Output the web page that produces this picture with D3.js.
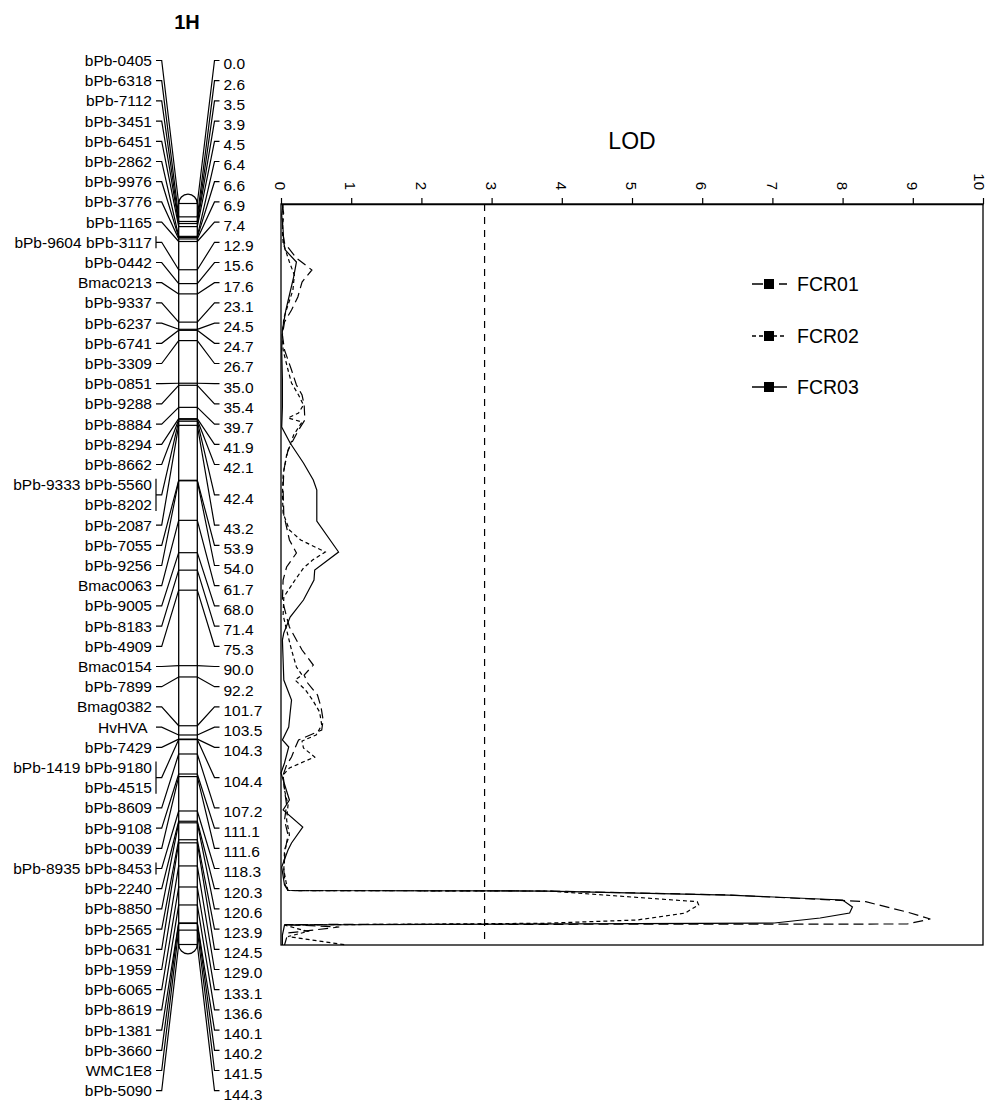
<!DOCTYPE html>
<html><head><meta charset="utf-8">
<script src="https://cdn.jsdelivr.net/npm/d3@7"></script>
<style>body{margin:0;background:#fff} svg{display:block} text{font-family:"Liberation Sans",Arial,Helvetica,sans-serif;fill:#000}</style>
</head><body><svg id="c" width="987" height="1102"></svg>
<script>
// ---- data ----
const chromosome = "1H";
const lociCM = [0.0,2.6,3.5,3.9,4.5,6.4,6.6,6.9,7.4,12.9,15.6,17.6,23.1,24.5,24.7,26.7,35.0,35.4,39.7,41.9,42.1,42.4,43.2,53.9,54.0,61.7,68.0,71.4,75.3,90.0,92.2,101.7,103.5,104.3,104.4,107.2,111.1,111.6,118.3,120.3,120.6,123.9,124.5,129.0,133.1,136.6,140.1,140.2,141.5,144.3];
const lociNames = [["bPb-0405"],["bPb-6318"],["bPb-7112"],["bPb-3451"],["bPb-6451"],["bPb-2862"],["bPb-9976"],["bPb-3776"],["bPb-1165"],["bPb-9604 bPb-3117"],["bPb-0442"],["Bmac0213"],["bPb-9337"],["bPb-6237"],["bPb-6741"],["bPb-3309"],["bPb-0851"],["bPb-9288"],["bPb-8884"],["bPb-8294"],["bPb-8662"],["bPb-9333 bPb-5560","bPb-8202"],["bPb-2087"],["bPb-7055"],["bPb-9256"],["Bmac0063"],["bPb-9005"],["bPb-8183"],["bPb-4909"],["Bmac0154"],["bPb-7899"],["Bmag0382"],["HvHVA\u00a0"],["bPb-7429"],["bPb-1419 bPb-9180","bPb-4515"],["bPb-8609"],["bPb-9108"],["bPb-0039"],["bPb-8935 bPb-8453"],["bPb-2240"],["bPb-8850"],["bPb-2565"],["bPb-0631"],["bPb-1959"],["bPb-6065"],["bPb-8619"],["bPb-1381"],["bPb-3660"],["WMC1E8"],["bPb-5090"]];
const lodTicks = [0,1,2,3,4,5,6,7,8,9,10];
const threshold = 2.9;
const seriesNames = ["FCR01","FCR02","FCR03"];

const fcr01Pos = [0.0,2.14,4.09,6.04,7.59,10.52,12.85,15.19,18.11,20.64,22.98,25.51,28.43,32.33,35.25,37.20,39.14,42.06,44.01,47.91,51.80,55.70,60.56,65.43,67.96,70.69,73.22,77.12,80.43,82.38,84.91,86.85,89.78,91.72,93.28,95.62,97.95,100.49,102.43,104.38,105.94,107.69,109.25,111.20,114.12,117.04,119.96,122.88,125.80,129.70,132.62,133.69,133.79,134.57,135.87,137.88,139.24,140.21,140.31,140.80,141.96,144.3];
const fcr01Lod = [0.02,0.04,0.02,0.03,0.05,0.22,0.44,0.30,0.24,0.15,0.05,0.02,0.05,0.15,0.22,0.30,0.33,0.34,0.25,0.10,0.04,0.03,0.04,0.12,0.22,0.08,0.03,0.02,0.08,0.12,0.22,0.30,0.46,0.33,0.38,0.52,0.57,0.60,0.58,0.25,0.20,0.15,0.08,0.03,0.05,0.08,0.05,0.10,0.06,0.04,0.06,0.10,3.80,6.40,8.33,8.92,9.25,8.92,0.05,0.83,0.10,0.05];

const fcr02Pos = [0.0,2.14,5.06,7.59,11.29,13.83,16.75,19.67,22.20,25.51,28.43,32.33,34.86,37.20,39.14,40.70,41.67,42.45,44.99,48.88,52.78,56.67,60.18,63.49,65.43,67.77,69.33,70.89,73.22,76.53,80.04,82.96,86.85,90.16,91.72,92.70,94.64,96.59,98.93,101.46,103.41,104.58,105.94,107.69,109.83,111.20,114.12,117.04,119.96,122.88,125.80,129.70,132.62,133.69,133.79,135.87,136.51,137.29,138.07,139.43,140.07,140.41,141.67,142.65,144.3];
const fcr02Lod = [0.02,0.03,0.02,0.03,0.12,0.19,0.17,0.10,0.04,0.02,0.03,0.10,0.15,0.25,0.32,0.25,0.10,0.30,0.18,0.08,0.03,0.02,0.03,0.12,0.28,0.63,0.45,0.32,0.20,0.04,0.03,0.08,0.15,0.22,0.30,0.20,0.35,0.45,0.55,0.58,0.50,0.30,0.32,0.48,0.12,0.03,0.05,0.10,0.08,0.12,0.05,0.04,0.08,0.10,3.80,5.93,5.95,5.85,5.76,5.07,3.77,0.05,0.38,0.10,0.93];

const fcr03Pos = [0.0,2.14,5.06,7.59,8.96,11.29,14.22,17.72,20.64,24.54,28.43,34.27,39.53,43.43,46.54,50.44,53.75,55.70,61.73,67.77,71.28,73.22,77.12,80.43,83.54,84.91,92.70,96.59,99.12,101.85,104.38,105.74,108.86,110.81,116.07,118.01,121.32,124.44,125.80,129.11,132.62,133.69,133.79,134.57,135.54,136.90,138.07,139.04,140.02,140.41,142.36,144.3];
const fcr03Lod = [0.03,0.01,0.03,0.04,0.06,0.22,0.18,0.12,0.07,0.02,0.01,0.02,0.02,0.01,0.13,0.32,0.46,0.51,0.51,0.82,0.48,0.47,0.32,0.13,0.04,0.02,0.04,0.15,0.13,0.11,0.02,0.11,0.05,0.00,0.12,0.03,0.31,0.15,0.10,0.01,0.05,0.10,3.80,6.38,8.00,8.14,8.10,7.68,7.03,0.05,0.02,0.02];

const seriesDash = ["10,5","4,3",null];

// ---- layout ----
const svg = d3.select("#c");
const cmMax = d3.max(lociCM);
const yChr = d3.scaleLinear().domain([0, cmMax]).range([203.5, 944.5]);
const yPlot = d3.scaleLinear().domain([0, cmMax]).range([204, 945]);
const x = d3.scaleLinear().domain([0, 10]).range([281, 983]);
const rowY = i => 60.5 + i * 20.2;
const chrL = 178.7, chrR = 197.3, rad = (chrR - chrL) / 2;
const labelSize = 15.5;

svg.append("text").attr("x", 187).attr("y", 29).attr("text-anchor", "middle")
  .attr("font-size", 20).attr("font-weight", "bold").text(chromosome);

// chromosome body
const chrTop = yChr(0), chrBot = yChr(cmMax);
svg.append("path")
  .attr("d", `M${chrL},${chrBot} L${chrL},${chrTop} A${rad},${rad} 0 0 1 ${chrR},${chrTop} L${chrR},${chrBot} A${rad},${rad} 0 0 1 ${chrL},${chrBot} Z`)
  .attr("fill", "none").attr("stroke", "#000").attr("stroke-width", 1.3);

const g = svg.append("g").attr("stroke", "#000").attr("stroke-width", 1.2).attr("fill", "none");
let r = 0;
lociCM.forEach((cm, i) => {
  const names = lociNames[i];
  const n = names.length;
  const cy = rowY(r + (n - 1) / 2);
  const my = yChr(cm);
  names.forEach((nm, j) => {
    svg.append("text").attr("x", 152).attr("y", rowY(r + j)).attr("dy", "0.35em")
      .attr("text-anchor", "end").attr("font-size", labelSize).text(nm);
  });
  const bracket = n > 1 || names[0].trim().includes(" ");
  if (bracket) {
    g.append("line").attr("x1", 156).attr("x2", 156)
      .attr("y1", rowY(r) - 6).attr("y2", rowY(r + n - 1) + 6);
  }
  g.append("polyline").attr("points", `${156},${cy} ${161.7},${cy} ${chrL},${my}`);
  g.append("line").attr("x1", chrL).attr("x2", chrR).attr("y1", my).attr("y2", my);
  g.append("polyline").attr("points", `${chrR},${my} ${214.5},${cy} ${219.5},${cy}`);
  svg.append("text").attr("x", 223.5).attr("y", cy + 3.5).attr("dy", "0.35em")
    .attr("font-size", labelSize).text(cm.toFixed(1));
  r += n;
});

// LOD plot frame
svg.append("rect").attr("x", x(0)).attr("y", yPlot(0))
  .attr("width", x(10) - x(0)).attr("height", yPlot(cmMax) - yPlot(0))
  .attr("fill", "none").attr("stroke", "#000").attr("stroke-width", 1.3);

const ax = svg.append("g").attr("transform", `translate(0,${yPlot(0)})`)
  .call(d3.axisTop(x).tickValues(lodTicks).tickSize(6).tickSizeOuter(0).tickFormat(d3.format("d")));
ax.select(".domain").attr("stroke-width", 1.3);
ax.selectAll(".tick line").attr("stroke-width", 1.2);
ax.selectAll(".tick text").attr("transform", "rotate(90)").attr("x", -14).attr("y", 0)
  .attr("dy", (d, i, nodes) => i === nodes.length - 1 ? "0.62em" : "0.42em").attr("text-anchor", "end")
  .style("font-family", '"Liberation Sans",Arial,sans-serif').attr("font-size", 15);

svg.append("text").attr("x", 632).attr("y", 149).attr("text-anchor", "middle")
  .attr("font-size", 23).text("LOD");

// threshold
svg.append("line").attr("x1", x(threshold)).attr("x2", x(threshold))
  .attr("y1", yPlot(0)).attr("y2", yPlot(cmMax))
  .attr("stroke", "#000").attr("stroke-width", 1.2).attr("stroke-dasharray", "7,6");

// curves
const series = [
  d3.zip(fcr01Pos, fcr01Lod),
  d3.zip(fcr02Pos, fcr02Lod),
  d3.zip(fcr03Pos, fcr03Lod)
];
const line = d3.line().x(d => x(d[1])).y(d => yPlot(d[0]));
series.forEach((s, k) => {
  svg.append("path").attr("d", line(s)).attr("fill", "none").attr("stroke", "#000")
    .attr("stroke-width", 1.2).attr("stroke-dasharray", seriesDash[k]);
});

// legend
const legY = [284, 336, 387];
const legDash = ["11,16,12","4,3",null];
seriesNames.forEach((nm, k) => {
  const lg = svg.append("g").attr("transform", `translate(752,${legY[k]})`);
  lg.append("line").attr("x1", 0).attr("x2", 35).attr("y1", 0).attr("y2", 0)
    .attr("stroke", "#000").attr("stroke-width", 1.3).attr("stroke-dasharray", legDash[k]);
  lg.append("rect").attr("x", 12).attr("y", -5).attr("width", 10).attr("height", 10).attr("fill", "#000");
  lg.append("text").attr("x", 45).attr("y", 0).attr("dy", "0.35em").attr("font-size", 19.5).text(nm);
});
</script></body></html>
